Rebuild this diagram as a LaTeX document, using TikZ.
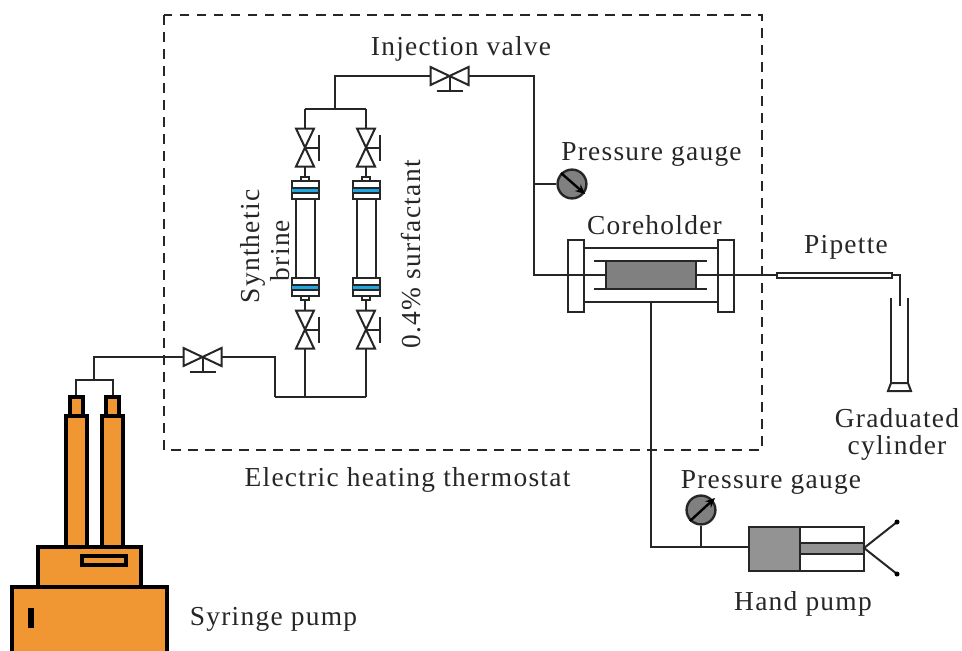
\documentclass[tikz,border=0pt]{standalone}
\usepackage{fontspec}
\setmainfont[LetterSpace=4.6]{Liberation Serif}
\usepackage{xcolor}
\usepackage{tikz}
\usetikzlibrary{calc,arrows.meta}
\definecolor{pumporange}{HTML}{F09633}
\definecolor{capblue}{HTML}{1FA5E0}
\definecolor{coregray}{HTML}{808080}
\tikzset{
  pipe/.style={line width=0.045cm,black!85},
  part/.style={line width=0.05cm,black!85},
  pumpline/.style={line width=0.09cm,black,fill=pumporange},
  label/.style={font=\fontsize{19.5}{22}\selectfont,inner sep=0pt,text=black!85},
  gauge/.style={circle,draw=black!85,line width=0.06cm,fill=coregray,minimum size=0.72cm,inner sep=0pt},
  needle/.style={line width=0.06cm,black,-{Stealth[length=0.24cm,width=0.22cm]}},
  valveh/.pic={
    \draw [part,fill=white] (-19,-9) -- (19,9) -- (19,-9) -- (-19,9) -- cycle;%
    \draw [part] (0,0) -- (0,15);%
    \draw [part] (-13,15) -- (13,15);%
  },
  valvev/.pic={
    \draw [part,fill=white] (-9,-19) -- (9,19) -- (-9,19) -- (9,-19) -- cycle;%
    \draw [part] (0,0) -- (14,0);%
    \draw [part] (14,-13) -- (14,13);%
  },
  endcap/.pic={
    \draw [part,fill=white] (-13.5,-9) rectangle (13.5,9);%
    \fill [capblue] (-13,-2.5) rectangle (13,2.5);%
    \draw [part] (-13.5,-2.5) -- (13.5,-2.5);%
    \draw [part] (-13.5,2.5) -- (13.5,2.5);%
  }
}
\begin{document}
\begin{tikzpicture}[x=0.025cm,y=-0.025cm]
  \useasboundingbox (0,0) rectangle (962,651);

  % Thermostat outline
  \draw [line width=0.055cm,black!85,dash pattern=on 0.24cm off 0.185cm] (164,15) rectangle (762,450);%

  % Junctions of the pipework
  \coordinate (topL) at (305,109);%
  \coordinate (topM) at (335,109);%
  \coordinate (topR) at (366,109);%
  \coordinate (bendA) at (335,76);%
  \coordinate (injIn) at (430,76);%
  \coordinate (injOut) at (469,76);%
  \coordinate (bendB) at (534,76);%
  \coordinate (teeA) at (534,184);%
  \coordinate (bendC) at (534,275);%
  \coordinate (coreIn) at (605,275);%
  \coordinate (coreOut) at (697,275);%
  \coordinate (pipetteIn) at (777,275);%
  \coordinate (pipetteOut) at (892,275);%
  \coordinate (bendD) at (900,275);%
  \coordinate (pipetteTip) at (900,306);%
  \coordinate (botL) at (275,397);%
  \coordinate (botM) at (305,397);%
  \coordinate (botR) at (366,397);%
  \coordinate (bendE) at (275,357);%
  \coordinate (inletOut) at (222,357);%
  \coordinate (inletIn) at (183,357);%
  \coordinate (bendF) at (94,357);%
  \coordinate (forkM) at (94,380);%
  \coordinate (forkL) at (76,380);%
  \coordinate (forkR) at (113,380);%
  \coordinate (syrL) at (76,397);%
  \coordinate (syrR) at (113,397);%
  \coordinate (holderBot) at (651,302);%
  \coordinate (bendG) at (651,547);%
  \coordinate (teeB) at (701,547);%
  \coordinate (pumpIn) at (749,547);%
  \coordinate (pumpRod) at (864,548);%
  \coordinate (leverUp) at (897,522);%
  \coordinate (leverDown) at (897,574);%

  % Drawing pipes
  \draw [pipe] (topL) -- (topR);%
  \draw [pipe] (topM) -- (bendA) -- (injIn);%
  \draw [pipe] (injOut) -- (bendB) -- (bendC) -- (coreIn);%
  \draw [pipe] (coreOut) -- (pipetteIn);%
  \draw [pipe] (pipetteOut) -- (bendD) -- (pipetteTip);%
  \draw [pipe] (botL) -- (botR);%
  \draw [pipe] (botL) -- (bendE) -- (inletOut);%
  \draw [pipe] (inletIn) -- (bendF) -- (forkM);%
  \draw [pipe] (syrL) -- (forkL) -- (forkR) -- (syrR);%
  \draw [pipe] (holderBot) -- (bendG) -- (pumpIn);%

  % Columns with their valves
  \foreach \xpos/\name in {305/A,366/B}{%
    \coordinate (top\name) at (\xpos,109);%
    \coordinate (bot\name) at (\xpos,397);%
    \draw [pipe] (top\name) -- (\xpos,177);%
    \draw [pipe] (\xpos,300) -- (bot\name);%
    \draw [part,fill=white] (\xpos-4,177) rectangle (\xpos+4,181);%
    \draw [part,fill=white] (\xpos-4,296) rectangle (\xpos+4,300);%
    \draw [part] (\xpos-9.5,199) -- (\xpos-9.5,278);%
    \draw [part] (\xpos+9.5,199) -- (\xpos+9.5,278);%
    \pic at (\xpos,190) {endcap};%
    \pic at (\xpos,287) {endcap};%
    \pic at (\xpos,147.5) {valvev};%
    \pic at (\xpos,329.5) {valvev};%
  }

  % Valves in the feed lines
  \pic at (449.5,76) {valveh};%
  \pic at (202.5,357) {valveh};%

  % Coreholder
  \draw [part] (584,248) -- (718,248);%
  \draw [part] (584,302) -- (718,302);%
  \draw [part] (594,261) -- (707,261);%
  \draw [part] (594,289) -- (707,289);%
  \draw [part] (568,240) rectangle (584,312);%
  \draw [part] (718,240) rectangle (734,312);%
  \draw [line width=0.06cm,black!85,fill=coregray] (606,261) rectangle (696,289);%

  % Pipette and graduated cylinder
  \draw [part,fill=white] (777,273) rectangle (892,278);%
  \draw [part] (891,298) -- (891,383);%
  \draw [part] (908,298) -- (908,383);%
  \draw [part,fill=white] (891,383) -- (908,383) -- (911,391) -- (888,391) -- cycle;%

  % Pressure gauges
  \node [gauge] (gaugeA) at (572,184) {};%
  \draw [pipe] (teeA) -- (gaugeA);%
  \draw [needle] (gaugeA.135) -- (585,194);%
  \node [gauge] (gaugeB) at (701,510) {};%
  \draw [pipe] (gaugeB) -- (teeB);%
  \draw [needle] (gaugeB.225) -- (715,498);%

  % Hand pump
  \draw [part,fill=white] (749,527) rectangle (864,571);%
  \draw [part,fill=coregray!85] (749,527) rectangle (800,571);%
  \draw [part,fill=coregray!85] (800,543) rectangle (864,554);%
  \draw [part] (leverUp) -- (pumpRod) -- (leverDown);%
  \fill (leverUp) circle (2.5);%
  \fill (leverDown) circle (2.5);%

  % Syringe pump
  \draw [pumpline] (70,397) rectangle (83,416);%
  \draw [pumpline] (106,397) rectangle (119,416);%
  \draw [pumpline] (66,416) rectangle (87,547);%
  \draw [pumpline] (102,416) rectangle (123,547);%
  \draw [pumpline] (38,547) rectangle (141,587);%
  \draw [pumpline] (82,556) rectangle (126,565);%
  \fill [pumporange] (12,587) rectangle (167,651);%
  \draw [pumpline,fill=none] (12,651) -- (12,587) -- (167,587) -- (167,651);%
  \fill [black] (28,608) rectangle (34,628);%

  % Labels
  \node [label] (injectionLabel) at (461,49) {Injection valve};%
  \node [label] (gaugeLabelA) at (651.5,154) {Pressure gauge};%
  \node [label] (holderLabel) at (654.5,225) {Coreholder};%
  \node [label] (pipetteLabel) at (846,247) {Pipette};%
  \node [label] (cylinderLabelA) at (897,418) {Graduated};%
  \node [label] (cylinderLabelB) at (897,448) {cylinder};%
  \node [label] (thermostatLabel) at (407.5,480) {Electric heating thermostat};%
  \node [label] (gaugeLabelB) at (771,482) {Pressure gauge};%
  \node [label] (handLabel) at (803,604) {Hand pump};%
  \node [label] (syringeLabel) at (273.5,619) {Syringe pump};%
  \node [label,rotate=90] (brineLabelA) at (253,246.5) {Synthetic};%
  \node [label,rotate=90] (brineLabelB) at (280,250.5) {brine};%
  \node [label,rotate=90] (surfactantLabel) at (411,254.5) {0.4\% surfactant};%
\end{tikzpicture}
\end{document}
